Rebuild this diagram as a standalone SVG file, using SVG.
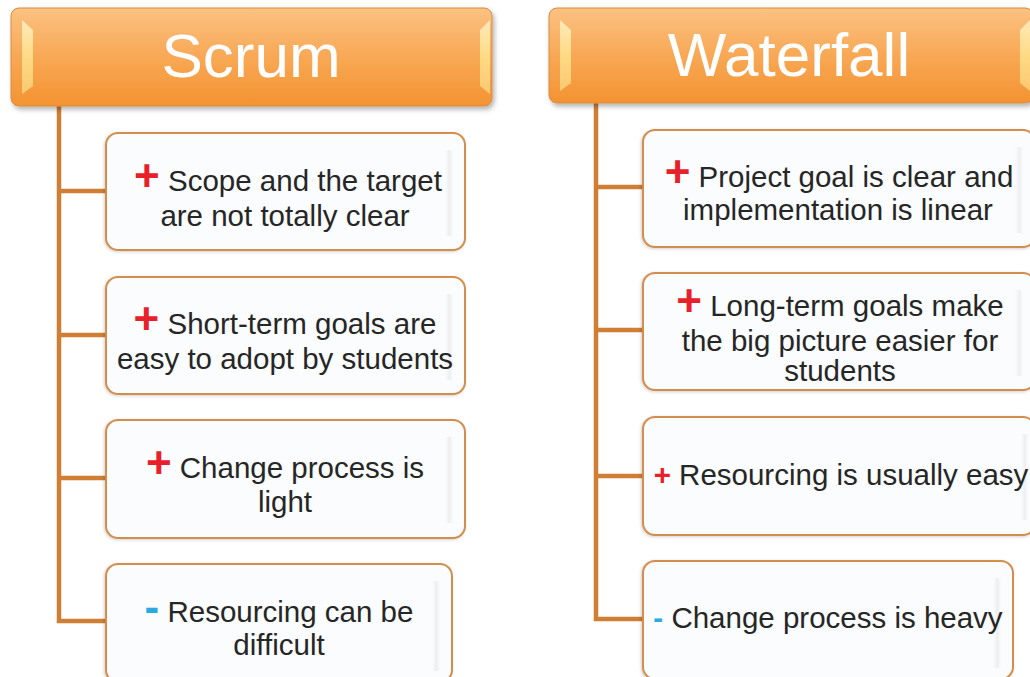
<svg xmlns="http://www.w3.org/2000/svg" width="1030" height="677" viewBox="0 0 1030 677">
<defs>
<linearGradient id="hdr" x1="0" y1="0" x2="0" y2="1">
<stop offset="0" stop-color="#FBC282"/>
<stop offset="0.5" stop-color="#F8A855"/>
<stop offset="1" stop-color="#F39331"/>
</linearGradient>
<linearGradient id="bev" x1="0" y1="0" x2="0" y2="1">
<stop offset="0" stop-color="#FFF2C4"/>
<stop offset="0.5" stop-color="#FFE38E"/>
<stop offset="1" stop-color="#FCD17A"/>
</linearGradient>
<linearGradient id="rstrip" x1="0" y1="0" x2="1" y2="0">
<stop offset="0" stop-color="#EEF0F2" stop-opacity="0"/>
<stop offset="0.5" stop-color="#ECEEF0"/>
<stop offset="1" stop-color="#F6F8FA" stop-opacity="0"/>
</linearGradient>
<filter id="sh" x="-5%" y="-10%" width="115%" height="130%">
<feDropShadow dx="2" dy="3" stdDeviation="2.5" flood-color="#000" flood-opacity="0.3"/>
</filter>
<filter id="bsh" x="-5%" y="-10%" width="115%" height="130%">
<feDropShadow dx="-1" dy="1" stdDeviation="1.5" flood-color="#000" flood-opacity="0.18"/>
</filter>
</defs>
<style>
.hdr{fill:url(#hdr);stroke:#D98B40;stroke-width:1;filter:url(#sh)}
.bev{fill:url(#bev);opacity:0.85}
.title{font-family:"Liberation Sans",Arial,sans-serif;font-size:62px;fill:#FFFFFF;text-anchor:middle}
.box{fill:#FAFCFD;stroke:#D38D4E;stroke-width:2;filter:url(#bsh)}
.strip{fill:url(#rstrip)}
.t{font-family:"Liberation Sans",Arial,sans-serif;font-size:29.5px;fill:#262626;text-anchor:middle}
.p{fill:#E8202A;font-weight:bold;font-size:44px}
.ps{fill:#E8202A;font-weight:bold}
.m{fill:#29A9E0;font-weight:bold;font-size:44px}
.ms{fill:#29A9E0;font-weight:bold}
.c{fill:none;stroke:#CF7E34;stroke-width:4.5}
</style>

<g id="connectors">
<path class="c" d="M59 104 V623 M57 191 H107 M57 335 H107 M57 478 H107 M57 621 H107"/>
<path class="c" d="M596 101 V621 M594 187 H644 M594 330 H644 M594 476 H644 M594 619 H644"/>
</g>

<g id="scrum">
<rect class="hdr" x="11" y="8" width="481" height="98" rx="8"/>
<polygon class="bev" points="22,20 33,30 33,86 22,94"/>
<polygon class="bev" points="490,20 480,30 480,86 490,94"/>
<text class="title" x="251" y="77">Scrum</text>
</g>

<g id="waterfall">
<rect class="hdr" x="549" y="8" width="484" height="95" rx="8"/>
<polygon class="bev" points="560,20 571,30 571,83 560,91"/>
<polygon class="bev" points="1030,20 1020,30 1020,83 1030,91"/>
<text class="title" x="789" y="76">Waterfall</text>
</g>

<g id="scrum-1">
<rect class="box" x="106" y="133" width="359" height="117" rx="12"/>
<rect class="strip" x="445" y="150" width="9" height="86"/>
<text class="t" x="288" y="191"><tspan class="p">+</tspan> Scope and the target</text>
<text class="t" x="285" y="226">are not totally clear</text>
</g>

<g id="scrum-2">
<rect class="box" x="106" y="277" width="359" height="117" rx="12"/>
<rect class="strip" x="445" y="294" width="9" height="86"/>
<text class="t" x="285" y="334"><tspan class="p">+</tspan> Short-term goals are</text>
<text class="t" x="285" y="369">easy to adopt by students</text>
</g>

<g id="scrum-3">
<rect class="box" x="106" y="420" width="359" height="118" rx="12"/>
<rect class="strip" x="445" y="437" width="9" height="86"/>
<text class="t" x="285" y="478"><tspan class="p">+</tspan> Change process is</text>
<text class="t" x="285" y="512">light</text>
</g>

<g id="scrum-4">
<rect class="box" x="106" y="564" width="346" height="118" rx="12"/>
<rect class="strip" x="432" y="581" width="9" height="90"/>
<text class="t" x="279" y="622"><tspan class="m">-</tspan> Resourcing can be</text>
<text class="t" x="279" y="655">difficult</text>
</g>

<g id="waterfall-1">
<rect class="box" x="643" y="130" width="392" height="117" rx="12"/>
<rect class="strip" x="1015" y="147" width="9" height="86"/>
<text class="t" x="839" y="187"><tspan class="p">+</tspan> Project goal is clear and</text>
<text class="t" x="838" y="220">implementation is linear</text>
</g>

<g id="waterfall-2">
<rect class="box" x="643" y="273" width="392" height="117" rx="12"/>
<rect class="strip" x="1015" y="290" width="9" height="86"/>
<text class="t" x="840" y="316"><tspan class="p">+</tspan> Long-term goals make</text>
<text class="t" x="840" y="351">the big picture easier for</text>
<text class="t" x="840" y="381">students</text>
</g>

<g id="waterfall-3">
<rect class="box" x="643" y="417" width="392" height="118" rx="12"/>
<rect class="strip" x="1021" y="434" width="8" height="86"/>
<text class="t" x="841" y="485"><tspan class="ps">+</tspan> Resourcing is usually easy</text>
</g>

<g id="waterfall-4">
<rect class="box" x="643" y="561" width="370" height="118" rx="12"/>
<rect class="strip" x="993" y="578" width="9" height="90"/>
<text class="t" x="828" y="628"><tspan class="ms">-</tspan> Change process is heavy</text>
</g>
</svg>
